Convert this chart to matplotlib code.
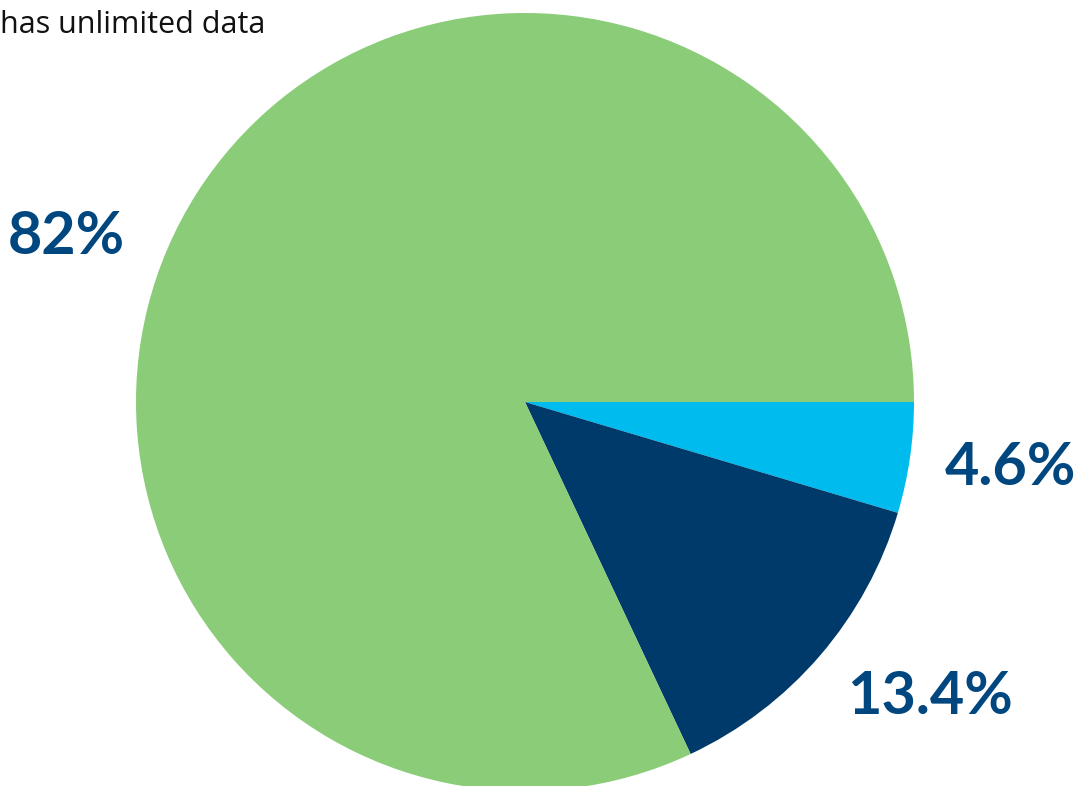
import matplotlib.pyplot as plt

# Share of plans, clockwise from 3 o'clock
labels = ['4.6%', '13.4%', '82%']
shares = [4.6, 13.4, 82.0]
colors = ['#00BCEE', '#003A6B', '#8ACC78']

fig = plt.figure(figsize=(10.78, 7.86), dpi=100)
ax = fig.add_axes([0, 0, 1, 1])

ax.pie(shares, colors=colors, startangle=0, counterclock=False,
       radius=1.0, wedgeprops={'linewidth': 0})

# Pie sits left of centre, radius 389 px
r_px = 389.0
cx, cy = 525.0, 402.0
ax.set_xlim(-cx / r_px, (1078 - cx) / r_px)
ax.set_ylim(-(786 - cy) / r_px, cy / r_px)
ax.set_aspect('equal')
ax.axis('off')

# Value labels placed beside their wedges
label_pos = {'4.6%': (1.249, -0.170), '13.4%': (1.041, -0.758), '82%': (-1.18, 0.424)}
for lab in labels:
    x, y = label_pos[lab]
    ax.text(x, y, lab, ha='center', va='center', fontsize=42.7,
            fontweight='bold', family=['Lato', 'DejaVu Sans'], color='#00467F')

fig.text(0.0, 1 - 33 / 786, 'has unlimited data', ha='left', va='baseline',
         fontsize=22, family=['Open Sans', 'DejaVu Sans'], color='#111111')

fig.savefig('out.png', dpi=100)
